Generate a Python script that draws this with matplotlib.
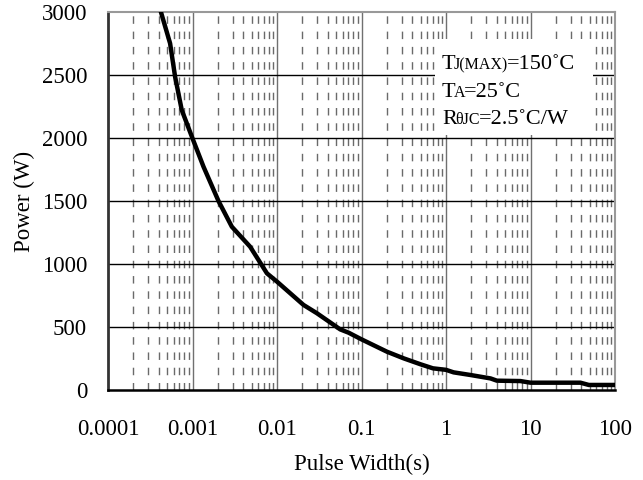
import numpy as np
import matplotlib.pyplot as plt
from matplotlib.patches import Rectangle
from matplotlib.ticker import FixedLocator

# curve
pulse_width = [0.000423, 0.000543, 0.000622, 0.000746, 0.001, 0.00135, 0.00203,
               0.00292, 0.00481, 0.0076, 0.01, 0.0206, 0.0297, 0.056, 0.0703,
               0.1, 0.2, 0.316, 0.5, 0.7, 1.0, 1.23, 1.95, 3.36, 4.0, 7.6,
               10, 39, 49, 100]
power = [3000, 2751, 2487, 2222, 1997, 1772, 1500, 1296, 1137, 926, 860, 675,
         609, 481, 455, 402, 304, 251, 204, 172, 160, 140, 119, 92, 74, 71,
         58, 58, 40, 40]

x_ticks = [0.0001, 0.001, 0.01, 0.1, 1, 10, 100]
x_labels = ['0.0001', '0.001', '0.01', '0.1', '1', '10', '100']
y_ticks = [0, 500, 1000, 1500, 2000, 2500, 3000]

serif = ['Liberation Serif', 'DejaVu Serif']
plt.rcParams['font.family'] = serif

W, H = 643, 480
fig = plt.figure(figsize=(W / 100, H / 100), dpi=100)
ax = fig.add_axes([108 / W, 1 - 390 / H, (615 - 108) / W, (390 - 12) / H])

ax.set_xscale('log')
ax.set_xlim(1e-4, 100)
ax.set_ylim(0, 3000)

# grid: decades solid grey, minor dashed, horizontal solid black
for xv in x_ticks[1:-1]:
    ax.axvline(xv, color='#707070', lw=1, zorder=1)
for dec in x_ticks[:-1]:
    for m in range(2, 10):
        ax.axvline(dec * m, color='#6a6a6a', lw=1, ls=(0, (5.4, 5.6)), zorder=1)
for yv in y_ticks[1:-1]:
    ax.axhline(yv, color='black', lw=1, zorder=1)

# white box behind the conditions text
ax.add_patch(Rectangle((435 / W, 1 - 135 / H), 158 / W, 96 / H, transform=fig.transFigure,
                       facecolor='white', edgecolor='none', zorder=2))

ax.plot(pulse_width, power, color='black', lw=3.2, solid_joinstyle='round', zorder=3)

ax.xaxis.set_major_locator(FixedLocator(x_ticks))
ax.set_xticklabels(x_labels)
ax.minorticks_off()
ax.set_yticks(y_ticks)
ax.tick_params(which='both', length=0, labelsize=16.5)
ax.tick_params(axis='x', pad=21)
ax.tick_params(axis='y', pad=15)

ax.spines['bottom'].set_linewidth(1.8)
ax.spines['bottom'].set_color('black')
ax.spines['left'].set_linewidth(2)
ax.spines['left'].set_color('#333333')
for side in ['top', 'right']:
    ax.spines[side].set_linewidth(1.5)
    ax.spines[side].set_color('#999999')

ax.set_xlabel('Pulse Width(s)', fontsize=16.5, labelpad=10)
ax.set_ylabel('Power (W)', fontsize=16.5, labelpad=5)

# conditions text, subscripts drawn smaller on the same baseline
renderer = fig.canvas.get_renderer()


def rich(px, py, parts):
    for s, size in parts:
        t = fig.text(px / W, 1 - py / H, s, fontsize=size, va='baseline', ha='left',
                     family=serif, zorder=5)
        px += t.get_window_extent(renderer).width - 1.5


rich(442, 69, [('T', 16), ('J(MAX)', 11.5), ('=150˚C', 16)])
rich(442, 97, [('T', 16), ('A', 11.5), ('=25˚C', 16)])
rich(442, 124, [('R', 16), ('θJC', 11.5), ('=2.5˚C/W', 16)])

fig.savefig('out.png', dpi=100)
